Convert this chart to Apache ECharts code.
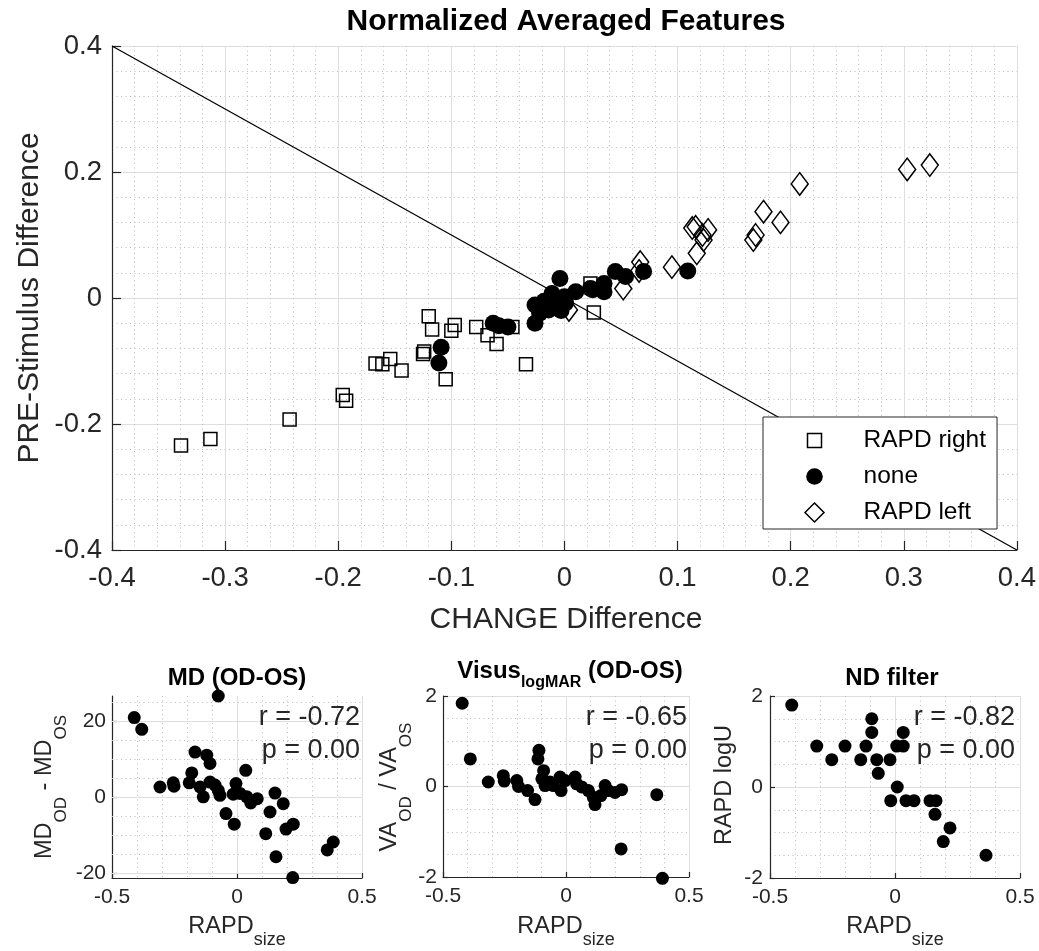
<!DOCTYPE html>
<html>
<head>
<meta charset="utf-8">
<script src="https://cdn.jsdelivr.net/npm/echarts@6/dist/echarts.min.js"></script>
<style>
html,body{margin:0;padding:0;background:#fff;}
#chart{width:1039px;height:951px;}
</style>
</head>
<body>
<div id="chart"></div>
<script>
// ---------------- data ----------------
const rapdRightX = [-0.339,-0.313,-0.243,-0.196,-0.193,-0.167,-0.161,-0.154,-0.144,-0.125,-0.124,-0.120,-0.117,-0.105,-0.100,-0.097,-0.078,-0.068,-0.060,-0.046,-0.034,0.026,0.023];
const rapdRightY = [-0.234,-0.224,-0.193,-0.154,-0.163,-0.104,-0.105,-0.097,-0.115,-0.089,-0.085,-0.029,-0.050,-0.129,-0.052,-0.043,-0.046,-0.059,-0.073,-0.046,-0.105,-0.023,0.023];

const noneX = [-0.109,-0.111,-0.063,-0.058,-0.050,-0.026,-0.026,-0.022,-0.018,-0.014,-0.011,-0.008,-0.005,-0.004,-0.003,0.000,0.001,0.010,0.023,0.025,0.035,0.035,0.045,0.054,0.070,0.109];
const noneY = [-0.078,-0.103,-0.040,-0.044,-0.046,-0.011,-0.040,-0.024,-0.005,-0.019,0.007,-0.003,-0.011,0.031,-0.020,0.002,-0.008,0.010,0.015,0.013,0.023,0.010,0.042,0.034,0.042,0.043];

const rapdLeftX = [0.004,0.052,0.067,0.066,0.095,0.117,0.113,0.116,0.123,0.127,0.122,0.167,0.169,0.176,0.191,0.208,0.303,0.323];
const rapdLeftY = [-0.019,0.015,0.057,0.043,0.049,0.071,0.111,0.113,0.092,0.108,0.100,0.092,0.100,0.137,0.120,0.181,0.204,0.211];

const diagX = [-0.4, 0.4];
const diagY = [0.4, -0.4];

const mdX = [-0.411,-0.381,-0.075,-0.308,-0.255,-0.252,-0.181,-0.191,-0.168,-0.121,-0.108,-0.148,-0.135,-0.108,-0.088,-0.075,-0.068,-0.044,-0.011,-0.015,-0.004,0.012,0.035,0.039,0.055,0.081,0.115,0.152,0.132,0.185,0.225,0.196,0.156,0.223,0.361,0.385];
const mdY = [21.0,17.9,26.7,2.7,3.8,2.9,6.4,3.8,11.9,11.1,8.9,2.7,0.1,4.0,3.2,1.8,0.5,-4.3,-7.1,0.8,3.6,1.0,7.1,0.1,-1.5,-0.4,-9.6,1.1,-3.9,-1.7,-7.1,-8.4,-15.7,-21.2,-13.9,-11.8];

const vaX = [-0.422,-0.389,-0.316,-0.255,-0.251,-0.200,-0.193,-0.156,-0.126,-0.110,-0.114,-0.091,-0.098,-0.085,-0.065,-0.051,-0.024,-0.020,-0.004,0.037,0.043,0.064,0.091,0.111,0.118,0.142,0.159,0.172,0.199,0.226,0.224,0.369,0.392];
const vaY = [1.84,0.61,0.10,0.24,0.12,0.13,0.00,-0.09,-0.29,0.80,0.61,0.35,0.17,0.02,0.10,0.02,0.21,-0.09,0.13,0.21,0.06,-0.01,-0.09,-0.24,-0.40,-0.20,0.02,-0.09,-0.13,-0.07,-1.38,-0.18,-2.03];

const ndX = [-0.413,-0.313,-0.253,-0.200,-0.137,-0.116,-0.093,-0.093,-0.073,-0.067,-0.020,0.007,0.033,0.033,0.009,-0.017,0.044,0.076,0.140,0.164,0.160,0.220,0.193,0.364];
const ndY = [1.8,0.9,0.6,0.9,0.6,0.9,1.5,1.2,0.6,0.3,0.6,0.9,1.2,0.9,0.0,-0.3,-0.3,-0.3,-0.3,-0.3,-0.6,-0.9,-1.2,-1.5];

// tick values for the MD subplot y axis (range is data-tight)
const mdYTicks = [-20, 0, 20];
const mdYMinor = [-15, -10, -5, 5, 10, 15, 25];

const stats = [
  {r: 'r = -0.72', p: 'p = 0.00'},
  {r: 'r = -0.65', p: 'p = 0.00'},
  {r: 'r = -0.82', p: 'p = 0.00'}
];

// ---------------- styling ----------------
const FF = '"Liberation Sans", Arial, Helvetica, sans-serif';
const AX = '#262626';
const GRID = '#dedede';
const MINOR = '#bcbcbc';

function pairs(xs, ys) { return xs.map((x, i) => [x, ys[i]]); }

function axisCommon(o) {
  return Object.assign({
    type: 'value',
    axisLine: {show: true, onZero: false, lineStyle: {color: AX, width: 1.2}},
    axisTick: {show: true, inside: true, length: o.tickLen, lineStyle: {color: AX, width: 1.2}},
    axisLabel: {fontSize: o.fs, fontFamily: FF, color: AX, margin: o.margin},
    splitLine: {show: true, lineStyle: {color: GRID, width: 1}},
    minorTick: {show: false, splitNumber: o.minor || 5},
    minorSplitLine: {show: true, lineStyle: {color: MINOR, width: 1, type: [1, 3.5]}}
  }, o.extra || {});
}

const xAxes = [
  axisCommon({tickLen: 9, fs: 27.5, margin: 14, minor: 5, extra: {gridIndex: 0, min: -0.4, max: 0.4, interval: 0.1, position: 'bottom'}}),
  axisCommon({tickLen: 5, fs: 21, margin: 9, minor: 5, extra: {gridIndex: 1, min: -0.5, max: 0.5, interval: 0.5, position: 'bottom'}}),
  axisCommon({tickLen: 5, fs: 21, margin: 9, minor: 5, extra: {gridIndex: 2, min: -0.5, max: 0.5, interval: 0.5, position: 'bottom'}}),
  axisCommon({tickLen: 5, fs: 21, margin: 9, minor: 5, extra: {gridIndex: 3, min: -0.5, max: 0.5, interval: 0.5, position: 'bottom'}})
];

const mdYAxis = axisCommon({tickLen: 5, fs: 21, margin: 6, extra: {gridIndex: 1, min: -21.3, max: 26.7, position: 'left'}});
mdYAxis.splitLine = {show: false};
mdYAxis.minorSplitLine = {show: false};
mdYAxis.axisTick.customValues = mdYTicks;
mdYAxis.axisLabel.customValues = mdYTicks;

const yAxes = [
  axisCommon({tickLen: 9, fs: 27.5, margin: 10, minor: 5, extra: {gridIndex: 0, min: -0.4, max: 0.4, interval: 0.2, position: 'left'}}),
  mdYAxis,
  axisCommon({tickLen: 5, fs: 21, margin: 6, minor: 4, extra: {gridIndex: 2, min: -2, max: 2, interval: 2, position: 'left'}}),
  axisCommon({tickLen: 5, fs: 21, margin: 7, minor: 4, extra: {gridIndex: 3, min: -2, max: 2, interval: 2, position: 'left'}})
];

const hollow = {color: 'none', borderColor: '#000', borderWidth: 1.5, opacity: 1};
const filled = {color: '#000', borderWidth: 0, opacity: 1};

const series = [
  {type: 'line', name: 'diag', xAxisIndex: 0, yAxisIndex: 0, data: pairs(diagX, diagY),
   symbol: 'none', lineStyle: {color: '#000', width: 1.3}, z: 1, silent: true},
  {type: 'scatter', name: 'RAPD right', xAxisIndex: 0, yAxisIndex: 0, data: pairs(rapdRightX, rapdRightY),
   symbol: 'rect', symbolSize: 13, itemStyle: hollow, z: 2, clip: false},
  {type: 'scatter', name: 'RAPD left', xAxisIndex: 0, yAxisIndex: 0, data: pairs(rapdLeftX, rapdLeftY),
   symbol: 'diamond', symbolSize: [17, 22.5], itemStyle: hollow, z: 2, clip: false},
  {type: 'scatter', name: 'none', xAxisIndex: 0, yAxisIndex: 0, data: pairs(noneX, noneY),
   symbol: 'circle', symbolSize: 17, itemStyle: filled, z: 2, clip: false},
  {type: 'scatter', name: 'md', xAxisIndex: 1, yAxisIndex: 1, data: pairs(mdX, mdY),
   symbol: 'circle', symbolSize: 13, itemStyle: filled, z: 2, clip: false,
   markLine: {
     silent: true, z: 1, animation: false, symbol: ['none', 'none'], label: {show: false},
     emphasis: {disabled: true},
     data: mdYTicks.map(v => ({yAxis: v, lineStyle: {color: GRID, width: 1, type: 'solid'}}))
       .concat(mdYMinor.map(v => ({yAxis: v, lineStyle: {color: MINOR, width: 1, type: [1, 3.5]}})))
   }},
  {type: 'scatter', name: 'va', xAxisIndex: 2, yAxisIndex: 2, data: pairs(vaX, vaY),
   symbol: 'circle', symbolSize: 13, itemStyle: filled, z: 2, clip: false},
  {type: 'scatter', name: 'nd', xAxisIndex: 3, yAxisIndex: 3, data: pairs(ndX, ndY),
   symbol: 'circle', symbolSize: 13, itemStyle: filled, z: 2, clip: false}
];

// legend icons (22x22 frame so all icons share one item box)
const iconSquare = 'path://M0,0M22,22M4,4L18,4L18,18L4,18Z';
const iconCircle = 'path://M0,0M22,22M2.7,11A8.3,8.3,0,1,1,19.3,11A8.3,8.3,0,1,1,2.7,11Z';
const iconDiamond = 'path://M0,0M22,22M11,1.5L20.5,11L11,20.5L1.5,11Z';

function txt(x, y, text, o) {
  o = o || {};
  return {
    type: 'text', x: x, y: y, rotation: o.rot || 0, z: 10, silent: true,
    style: Object.assign({
      text: text, fontSize: o.fs || 24, fontFamily: FF, fontWeight: o.bold ? 'bold' : 'normal',
      fill: o.color || AX, align: o.align || 'center', verticalAlign: 'middle',
      textAlign: o.align || 'center', textVerticalAlign: 'middle'
    }, o.rich ? {rich: o.rich} : {})
  };
}

function richSub(mainFs, subFs, pad, bold) {
  const w = bold ? 'bold' : 'normal';
  const c = bold ? '#000' : AX;
  return {
    m: {fontSize: mainFs, fontFamily: FF, fontWeight: w, color: c},
    s: {fontSize: subFs, fontFamily: FF, fontWeight: w, color: c, padding: [pad, 0, 0, 0]}
  };
}

const subXLabelRich = richSub(23.5, 18, 26, false);
const subYLabelRich = richSub(23.5, 17, 32, false);
const visusRich = richSub(24, 16, 24, true);

const graphics = [
  txt(566, 22, 'Normalized Averaged Features', {fs: 30, bold: true, color: '#000'}),
  txt(566, 620, 'CHANGE Difference', {fs: 30}),
  txt(30, 298, 'PRE-Stimulus Difference', {fs: 30, rot: Math.PI / 2}),

  txt(237, 678, 'MD (OD-OS)', {fs: 24, bold: true, color: '#000'}),
  txt(570, 671, '{m|Visus}{s|logMAR}{m| (OD-OS)}', {fs: 24, bold: true, color: '#000', rich: visusRich}),
  txt(892, 678, 'ND filter', {fs: 24, bold: true, color: '#000'}),

  txt(360, 718, stats[0].r, {fs: 27, align: 'right'}),
  txt(360, 751, stats[0].p, {fs: 27, align: 'right'}),
  txt(687, 718, stats[1].r, {fs: 27, align: 'right'}),
  txt(687, 751, stats[1].p, {fs: 27, align: 'right'}),
  txt(1015, 718, stats[2].r, {fs: 27, align: 'right'}),
  txt(1015, 751, stats[2].p, {fs: 27, align: 'right'}),

  txt(237, 927, '{m|RAPD}{s|size}', {rich: subXLabelRich}),
  txt(566, 927, '{m|RAPD}{s|size}', {rich: subXLabelRich}),
  txt(895, 927, '{m|RAPD}{s|size}', {rich: subXLabelRich}),

  txt(45, 787, '{m|MD}{s|OD}{m| - MD}{s|OS}', {rot: Math.PI / 2, rich: subYLabelRich}),
  txt(390, 787, '{m|VA}{s|OD}{m| / VA}{s|OS}', {rot: Math.PI / 2, rich: subYLabelRich}),
  txt(725, 785, 'RAPD logU', {fs: 23.5, rot: Math.PI / 2})
];

const option = {
  animation: false,
  backgroundColor: '#fff',
  textStyle: {fontFamily: FF},
  grid: [
    {left: 112, top: 46, width: 907, height: 504},
    {left: 112, top: 696, width: 250, height: 182},
    {left: 443, top: 696, width: 246, height: 181},
    {left: 770, top: 696, width: 250, height: 182}
  ],
  xAxis: xAxes,
  yAxis: yAxes,
  legend: {
    left: 763, top: 417, orient: 'vertical', z: 6,
    backgroundColor: '#fff', borderColor: AX, borderWidth: 1,
    padding: [10, 11, 3, 38], itemGap: 10, itemWidth: 88, itemHeight: 22,
    symbolKeepAspect: true, selectedMode: false,
    textStyle: {fontSize: 24.5, fontFamily: FF, color: '#000'},
    data: [
      {name: 'RAPD right', icon: iconSquare, itemStyle: {color: 'none', borderColor: '#000', borderWidth: 1.5}},
      {name: 'none', icon: iconCircle, itemStyle: {color: '#000', borderColor: '#000', borderWidth: 0}},
      {name: 'RAPD left', icon: iconDiamond, itemStyle: {color: 'none', borderColor: '#000', borderWidth: 1.5}}
    ]
  },
  graphic: graphics,
  series: series
};

const chart = echarts.init(document.getElementById('chart'), null, {renderer: 'canvas'});
chart.setOption(option);
</script>
</body>
</html>
